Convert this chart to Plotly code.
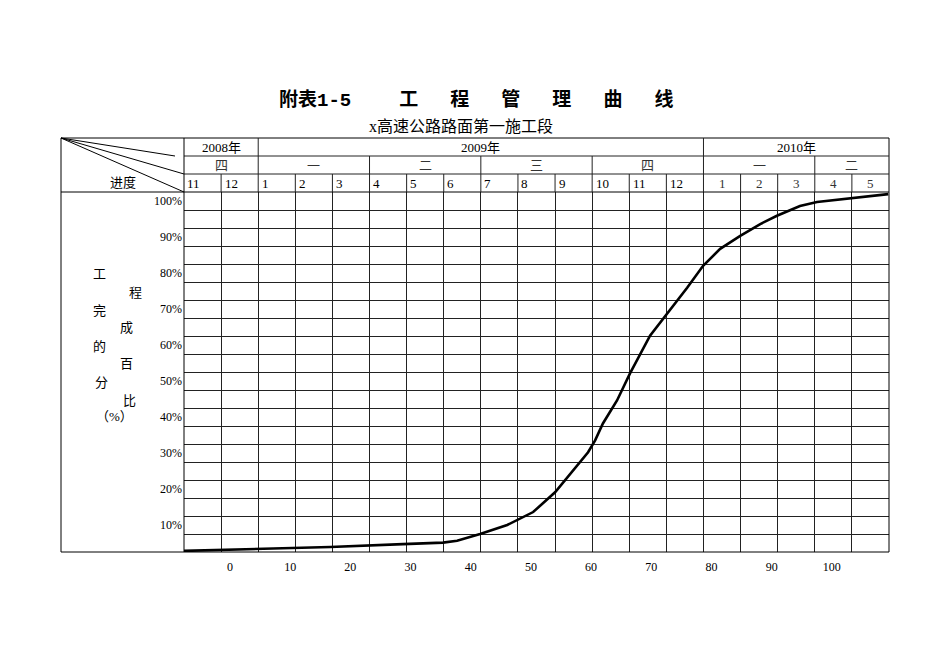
import plotly.graph_objects as go

# ---------------- data ----------------
month_labels = ["11", "12", "1", "2", "3", "4", "5", "6", "7", "8", "9", "10", "11", "12",
                "1", "2", "3", "4", "5"]
year_labels = ["2008年", "2009年", "2010年"]
year_spans = [(0, 2), (2, 14), (14, 19)]
quarter_labels = ["四", "一", "二", "三", "四", "一", "二"]
quarter_spans = [(0, 2), (2, 5), (5, 8), (8, 11), (11, 14), (14, 17), (17, 19)]

# cumulative completion (months since start of Nov 2008, percent)
progress_x = [0.00, 1.97, 3.94, 5.90, 6.98, 7.36, 7.98, 8.71, 9.41, 10.00, 10.32, 10.89,
              11.08, 11.29, 11.67, 12.02, 12.56, 13.02, 13.56, 13.99, 14.45, 14.99,
              15.53, 15.98, 16.60, 17.06, 18.03, 18.98]
progress_y = [0.3, 0.8, 1.4, 2.2, 2.6, 3.1, 5.0, 7.5, 11.1, 16.6, 20.5, 27.7,
              31.0, 35.7, 42.1, 49.6, 60.1, 66.2, 73.4, 79.5, 84.2, 87.8,
              91.1, 93.4, 96.1, 97.2, 98.3, 99.4]

pct_tick_vals = [97.5, 87.5, 77.5, 67.5, 57.5, 47.5, 37.5, 27.5, 17.5, 7.5]
pct_tick_text = ["100%", "90%", "80%", "70%", "60%", "50%", "40%", "30%", "20%", "10%"]
bottom_tick_vals = [0, 10, 20, 30, 40, 50, 60, 70, 80, 90, 100]
bottom_tick_text = ["0", "10", "20", "30", "40", "50", "60", "70", "80", "90", "100"]

side_chars = ["工", "程", "完", "成", "的", "百", "分", "比", "（%）"]

title_prefix = "附表"
title_number = "1-5"
title_words = ["工", "程", "管", "理", "曲", "线"]
subtitle_text = "x高速公路路面第一施工段"
corner_text = "进度"

# ---------------- layout geometry ----------------
OFF = 8  # page body margin of the browser
W, H = 950 - OFF, 672 - OFF
L, R, T, B = 184 - OFF, 889 - OFF, 192 - OFF, 552 - OFF


def pxx(px):
    return (px - OFF - L) / (R - L)


def pxy(py):
    return (B - (py - OFF)) / (B - T)


side_pos = [(99, 273), (135, 292), (99, 310), (126, 327), (99, 346),
            (126, 363), (101, 382), (129, 400), (114, 416)]

FONT = "Liberation Serif, Noto Sans CJK SC, serif"
LINE = "#222222"


def gap(n):
    return '<span style="font-size:16px">' + "\u3000" * n + "</span>"


title_html = (title_prefix
              + '<span style="font-family:Liberation Mono">' + title_number + "</span>"
              + gap(3) + gap(2).join(title_words))

fig = go.Figure()
fig.add_trace(go.Scatter(x=progress_x, y=progress_y, mode="lines",
                         line=dict(color="black", width=2.6),
                         hoverinfo="skip", showlegend=False))
fig.add_trace(go.Scatter(x=[bottom_tick_vals[0], bottom_tick_vals[-1]], y=[0, 100],
                         mode="lines", opacity=0, line=dict(width=0),
                         xaxis="x2", yaxis="y2", hoverinfo="skip", showlegend=False))

shapes = []
top = pxy(138)
shapes.append(dict(type="rect", xref="paper", yref="paper", x0=pxx(61), x1=1, y0=0, y1=top,
                   line=dict(color="black", width=1)))
shapes.append(dict(type="line", xref="paper", yref="paper", x0=pxx(61), x1=1, y0=1, y1=1,
                   line=dict(color="black", width=1)))
for yy in (pxy(156), pxy(174)):
    shapes.append(dict(type="line", xref="paper", yref="paper", x0=0, x1=1, y0=yy, y1=yy,
                       line=dict(color=LINE, width=1)))
shapes.append(dict(type="line", xref="paper", yref="paper", x0=0, x1=0, y0=0, y1=top,
                   line=dict(color="black", width=1)))
for a, b in year_spans[1:]:
    shapes.append(dict(type="line", xref="x", yref="paper", x0=a, x1=a, y0=pxy(156), y1=top,
                       line=dict(color=LINE, width=1)))
for a, b in quarter_spans[1:]:
    shapes.append(dict(type="line", xref="x", yref="paper", x0=a, x1=a, y0=pxy(174), y1=pxy(156),
                       line=dict(color=LINE, width=1)))
for i in range(1, len(month_labels)):
    shapes.append(dict(type="line", xref="x", yref="paper", x0=i, x1=i, y0=1, y1=pxy(174),
                       line=dict(color=LINE, width=1)))
for ex, ey in ((175, 156), (184, 174), (184, 192)):
    shapes.append(dict(type="line", xref="paper", yref="paper", x0=pxx(61), y0=top,
                       x1=pxx(ex), y1=pxy(ey), line=dict(color="black", width=1)))


def note(text, xref, x, y, size, color="black", xanchor="center", family=FONT, weight="normal"):
    return dict(text=text, xref=xref, yref="paper", x=x, y=y, xanchor=xanchor,
                yanchor="middle", showarrow=False,
                font=dict(family=family, size=size, color=color, weight=weight))


ann = []
ann.append(note(title_html, "paper", pxx(476), pxy(98), 19, family="Noto Sans CJK SC",
                weight="bold"))
ann.append(note(subtitle_text, "paper", pxx(461), pxy(127), 16))
ann.append(note(corner_text, "paper", pxx(123), pxy(182), 13))
for lab, (a, b) in zip(year_labels, year_spans):
    ann.append(note(lab, "x", (a + b) / 2, pxy(147), 13))
for lab, (a, b) in zip(quarter_labels, quarter_spans):
    ann.append(note(lab, "x", (a + b) / 2, pxy(165), 13, color="#333"))
for i, lab in enumerate(month_labels):
    if i < 14:
        ann.append(note(lab, "x", i + 0.04, pxy(183), 13, xanchor="left"))
    else:
        ann.append(note(lab, "x", i + 0.5, pxy(183), 13, color="#333"))
for ch, (sx, sy) in zip(side_chars, side_pos):
    ann.append(note(ch, "paper", pxx(sx), pxy(sy), 13))

fig.update_layout(
    width=W, height=H,
    margin=dict(l=L, r=W - R, t=T, b=H - B, pad=0),
    paper_bgcolor="white", plot_bgcolor="white",
    showlegend=False,
    shapes=shapes, annotations=ann,
    xaxis=dict(range=[0, len(month_labels)], dtick=1, tick0=0, showgrid=True,
               gridcolor=LINE, gridwidth=1, showticklabels=False, ticks="",
               zeroline=False, showline=False, fixedrange=True),
    yaxis=dict(range=[0, 100], dtick=5, tick0=0, showgrid=True, gridcolor=LINE,
               gridwidth=1, showticklabels=False, ticks="", zeroline=False,
               showline=False, fixedrange=True),
    xaxis2=dict(overlaying="x", anchor="y", side="bottom", range=[-7.64, 109.5],
                tickvals=bottom_tick_vals, ticktext=bottom_tick_text, showgrid=False,
                zeroline=False, showline=False, ticks="", ticklabelstandoff=6,
                tickfont=dict(family=FONT, size=12, color="black"), fixedrange=True),
    yaxis2=dict(overlaying="y", anchor="x", side="left", range=[0, 100],
                tickvals=pct_tick_vals, ticktext=pct_tick_text, showgrid=False,
                zeroline=False, showline=False, ticks="", ticklabelstandoff=1,
                tickfont=dict(family=FONT, size=12, color="black"), fixedrange=True),
)

fig.write_html("out.html")
